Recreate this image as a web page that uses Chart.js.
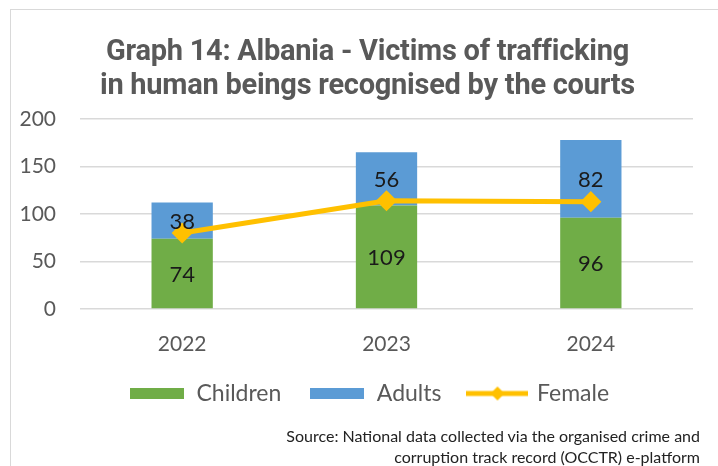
<html><head><title>Victims of trafficking</title>
<style>
    body {
        margin: 0;
        background-color: #fff;
        font-family: Lato, sans-serif;
    }
    .frame {
        position: absolute;
        left: 10px;
        top: 9px;
        width: 800px;
        height: 600px;
        border: 1px solid #d9d9d9;
    }
    .title {
        position: absolute;
        left: 0;
        top: 33px;
        width: 735px;
        text-align: center;
        font-family: Roboto, sans-serif;
        font-weight: bold;
        font-size: 29px;
        line-height: 34px;
        color: #595959;
        letter-spacing: -0.25px;
    }
    .source {
        position: absolute;
        right: 18px;
        top: 425px;
        text-align: right;
        font-size: 16px;
        line-height: 21px;
        color: #222;
    }
    .chart-container {
        position: absolute;
        left: 0;
        top: 0;
        width: 718px;
        height: 466px;
    }
</style>
<script src="https://cdn.jsdelivr.net/npm/chart.js"></script>
</head>
<body>
<div class="frame"></div>
<div class="chart-container"><canvas id="chart"></canvas></div>
<div class="title">Graph 14: Albania - Victims of trafficking<br>in human beings recognised by the courts</div>
<div class="source">Source: National data collected via the organised crime and<br>corruption track record (OCCTR) e-platform</div>

<script>
const years = ['2022', '2023', '2024'];
const children = [74, 109, 96];
const adults = [38, 56, 82];
const female = [80, 114, 113];
const yTicks = [0, 50, 100, 150, 200];

const GREEN = '#70ad47';
const BLUE = '#5b9bd5';
const YELLOW = '#ffc000';
const ORDER = ['Children', 'Adults', 'Female'];

// legend markers drawn as small images
function boxMarker(color) {
    const c = document.createElement('canvas');
    c.width = 54; c.height = 11;
    const g = c.getContext('2d');
    g.fillStyle = color;
    g.fillRect(0, 0, 54, 11);
    return c;
}
function lineMarker(color) {
    const c = document.createElement('canvas');
    c.width = 62; c.height = 16;
    const g = c.getContext('2d');
    g.strokeStyle = color;
    g.lineWidth = 5;
    g.beginPath(); g.moveTo(0, 8); g.lineTo(62, 8); g.stroke();
    g.fillStyle = color;
    g.beginPath(); g.moveTo(31, 1); g.lineTo(38, 8); g.lineTo(31, 15); g.lineTo(24, 8); g.closePath(); g.fill();
    return c;
}
const markers = [boxMarker(GREEN), boxMarker(BLUE), lineMarker(YELLOW)];

// value labels in the middle of each bar segment
const barLabels = {
    id: 'barLabels',
    afterDatasetsDraw(chart) {
        const ctx = chart.ctx;
        ctx.save();
        ctx.font = '22px Lato';
        ctx.fillStyle = '#1a1a1a';
        ctx.textAlign = 'center';
        ctx.textBaseline = 'middle';
        chart.data.datasets.forEach((ds, i) => {
            if (ds.type === 'line') return;
            chart.getDatasetMeta(i).data.forEach((bar, j) => {
                ctx.fillText(ds.data[j], bar.x, (bar.y + bar.base) / 2 + 1);
            });
        });
        ctx.restore();
    }
};

// the legend sits a little right of the page centre
const legendShift = {
    id: 'legendShift',
    afterLayout(chart) {
        if (chart.legend) chart.legend.left += 45;
    }
};

new Chart(document.getElementById('chart'), {
    data: {
        labels: years,
        datasets: [
            {
                type: 'line',
                label: 'Female',
                data: female,
                borderColor: YELLOW,
                backgroundColor: YELLOW,
                borderWidth: 5,
                pointStyle: 'rectRot',
                pointRadius: 7,
                pointHoverRadius: 7,
                order: 0
            },
            {
                type: 'bar',
                label: 'Children',
                data: children,
                backgroundColor: GREEN,
                stack: 's',
                barPercentage: 0.6,
                categoryPercentage: 0.5,
                order: 1
            },
            {
                type: 'bar',
                label: 'Adults',
                data: adults,
                backgroundColor: BLUE,
                stack: 's',
                barPercentage: 0.6,
                categoryPercentage: 0.5,
                order: 1
            }
        ]
    },
    options: {
        responsive: true,
        maintainAspectRatio: false,
        animation: false,
        layout: { padding: { top: 119, right: 25, bottom: 51, left: 0 } },
        scales: {
            x: {
                stacked: true,
                grid: { display: false },
                border: { display: false },
                ticks: { color: '#595959', font: { family: 'Lato', size: 21 }, padding: 15 },
                afterFit(s) { s.height = 45; }
            },
            y: {
                stacked: true,
                min: 0,
                max: 200,
                afterBuildTicks(s) { s.ticks = yTicks.map(v => ({ value: v })); },
                grid: { color: '#d9d9d9', lineWidth: 1.5, drawTicks: false },
                border: { display: false },
                ticks: { color: '#595959', font: { family: 'Lato', size: 21 }, padding: 24 },
                afterFit(s) { s.width = 80; }
            }
        },
        plugins: {
            tooltip: { enabled: false },
            legend: {
                position: 'bottom',
                labels: {
                    color: '#595959',
                    font: { family: 'Lato', size: 23 },
                    usePointStyle: true,
                    pointStyleWidth: 56,
                    boxHeight: 16,
                    padding: 28,
                    sort: (a, b) => ORDER.indexOf(a.text) - ORDER.indexOf(b.text),
                    generateLabels(chart) {
                        const items = Chart.defaults.plugins.legend.labels.generateLabels(chart);
                        items.forEach(it => { it.pointStyle = markers[ORDER.indexOf(it.text)]; });
                        return items;
                    }
                }
            }
        }
    },
    plugins: [barLabels, legendShift]
});
</script>
</body></html>
